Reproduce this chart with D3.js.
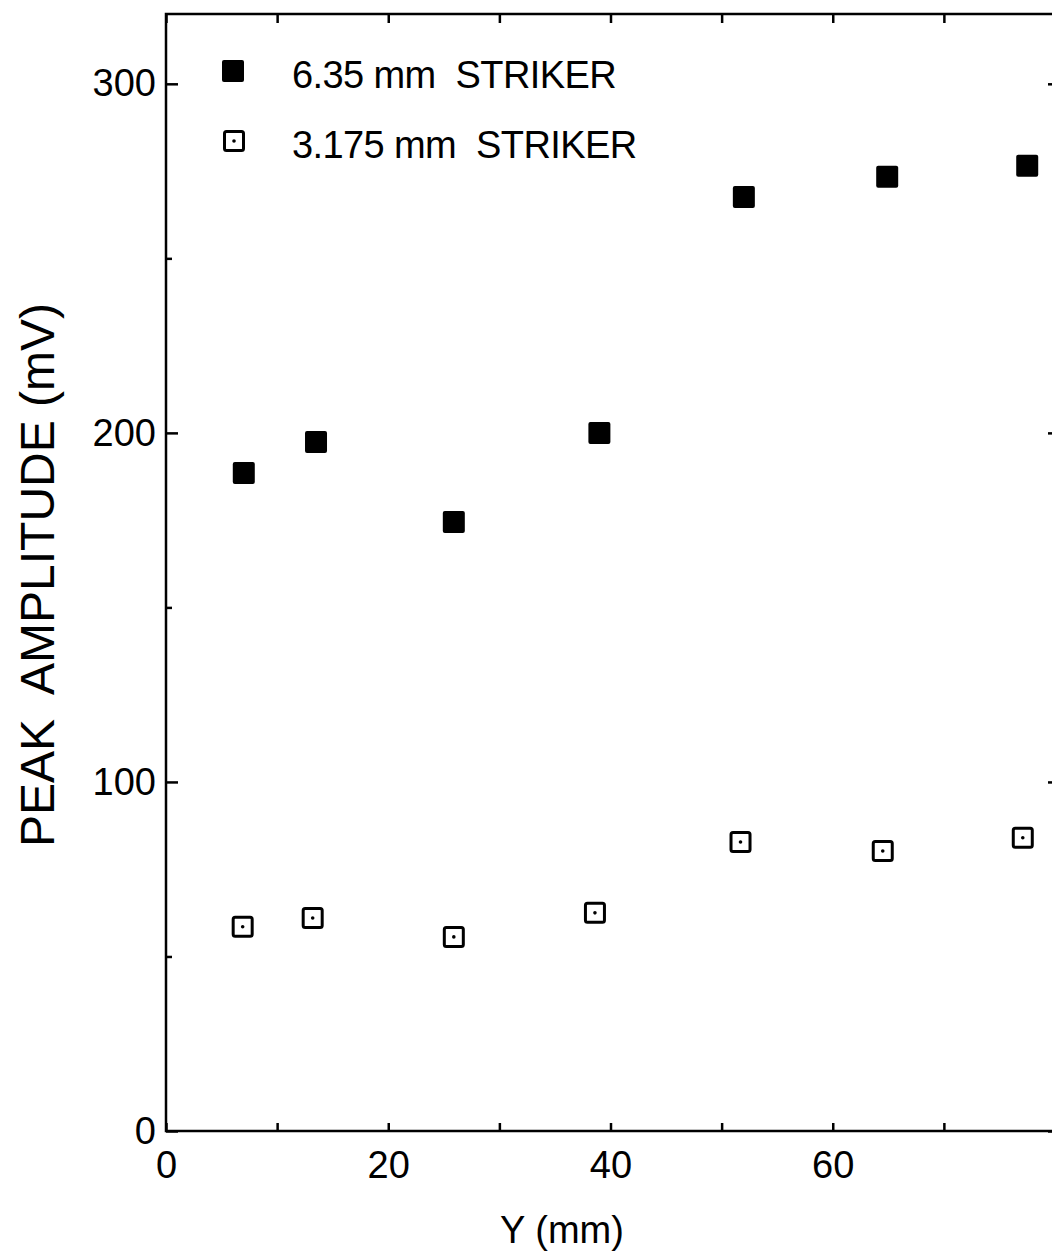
<!DOCTYPE html>
<html>
<head>
<meta charset="utf-8">
<script src="https://cdn.jsdelivr.net/npm/d3@7"></script>
<style>
  body { margin: 0; background: #fff; }
  svg { display: block; font-family: "Liberation Sans", Arial, sans-serif; }
</style>
</head>
<body>
<div id="chart"></div>
<script>
// values
const seriesNames = ["6.35 mm  STRIKER", "3.175 mm  STRIKER"];
const thickX = [7.0, 13.5, 25.9, 39.0, 52.0, 64.9, 77.5];
const thickY = [188.5, 197.4, 174.5, 200.0, 267.6, 273.4, 276.5];
const thinX = [6.9, 13.2, 25.9, 38.6, 51.7, 64.5, 77.1];
const thinY = [58.5, 61.0, 55.6, 62.5, 82.8, 80.2, 84.0];
const xTicks = [0, 10, 20, 30, 40, 50, 60, 70, 80];
const xLabels = [0, 20, 40, 60];
const yMajor = [0, 100, 200, 300];
const yMinor = [50, 150, 250];

const W = 1052, H = 1254;
const margin = {top: 14, right: -3, bottom: 123, left: 166};
const INK = "#000";

const svg = d3.select("#chart").append("svg")
    .attr("width", W)
    .attr("height", H);

const x = d3.scaleLinear().domain([0, 80]).range([margin.left, W - margin.right]);
const y = d3.scaleLinear().domain([0, 320]).range([H - margin.bottom, margin.top]);

const x0 = x.range()[0], x1 = x.range()[1];
const y0 = y.range()[0], y1 = y.range()[1];

// frame
svg.append("rect")
    .attr("x", x0).attr("y", y1)
    .attr("width", x1 - x0).attr("height", y0 - y1)
    .attr("fill", "none")
    .attr("stroke", INK)
    .attr("stroke-width", 2.5);

// bottom axis: inward ticks, labels every 20
const bottomAxis = svg.append("g").attr("transform", `translate(0,${y0})`)
    .call(d3.axisBottom(x).tickValues(xTicks).tickSize(-8).tickSizeOuter(0)
        .tickFormat(d => xLabels.includes(d) ? d : "").tickPadding(20));
bottomAxis.select(".domain").remove();
bottomAxis.selectAll("line").attr("stroke", INK).attr("stroke-width", 2.5);
bottomAxis.selectAll("text").attr("fill", INK).style("font-size", "38px")
    .attr("dy", "0.71em");

// top axis ticks
const topAxis = svg.append("g").attr("transform", `translate(0,${y1})`)
    .call(d3.axisTop(x).tickValues(xTicks).tickSize(-9).tickFormat(""));
topAxis.select(".domain").remove();
topAxis.selectAll("line").attr("stroke", INK).attr("stroke-width", 2.5);

// left axis: major with labels, minor short
const leftAxis = svg.append("g").attr("transform", `translate(${x0},0)`)
    .call(d3.axisLeft(y).tickValues(yMajor).tickSize(-12).tickPadding(10));
leftAxis.select(".domain").remove();
leftAxis.selectAll("line").attr("stroke", INK).attr("stroke-width", 2.5);
leftAxis.selectAll("text").attr("fill", INK).style("font-size", "38px");

const leftMinor = svg.append("g").attr("transform", `translate(${x0},0)`)
    .call(d3.axisLeft(y).tickValues(yMinor).tickSize(-6).tickFormat(""));
leftMinor.select(".domain").remove();
leftMinor.selectAll("line").attr("stroke", INK).attr("stroke-width", 2.5);

// right axis ticks (mostly off the page)
const rightAxis = svg.append("g").attr("transform", `translate(${x1},0)`)
    .call(d3.axisRight(y).tickValues(yMajor).tickSize(-7).tickFormat(""));
rightAxis.select(".domain").remove();
rightAxis.selectAll("line").attr("stroke", INK).attr("stroke-width", 2.5);

// axis titles
svg.append("text")
    .attr("x", 562).attr("y", 1243)
    .attr("text-anchor", "middle")
    .style("font-size", "38px")
    .text("Y (mm)");

svg.append("text")
    .attr("transform", `translate(54,575) rotate(-90)`)
    .attr("text-anchor", "middle")
    .style("font-size", "48px")
    .attr("xml:space", "preserve")
    .style("white-space", "pre")
    .text("PEAK  AMPLITUDE (mV)");

// markers
const MS = 22;
const thick = thickX.map((v, i) => ({x: v, y: thickY[i]}));
const thin = thinX.map((v, i) => ({x: v, y: thinY[i]}));

function filledSquare(g, cx, cy) {
    g.append("rect")
        .attr("x", cx - MS / 2).attr("y", cy - MS / 2)
        .attr("width", MS).attr("height", MS)
        .attr("rx", 2)
        .attr("fill", INK);
}

function hollowSquare(g, cx, cy) {
    const s = MS - 3;
    g.append("rect")
        .attr("x", cx - s / 2).attr("y", cy - s / 2)
        .attr("width", s).attr("height", s)
        .attr("rx", 2)
        .attr("fill", "none")
        .attr("stroke", INK)
        .attr("stroke-width", 3);
    g.append("circle")
        .attr("cx", cx).attr("cy", cy).attr("r", 1.8)
        .attr("fill", INK);
}

const pts = svg.append("g");
thick.forEach(d => filledSquare(pts, x(d.x), y(d.y)));
thin.forEach(d => hollowSquare(pts, x(d.x), y(d.y)));

// legend
const legend = svg.append("g");
filledSquare(legend, 233, 71);
hollowSquare(legend, 234, 141);
legend.selectAll("text.lg")
    .data(seriesNames)
    .enter().append("text")
    .attr("class", "lg")
    .attr("x", 292)
    .attr("y", (d, i) => 88 + i * 70)
    .attr("xml:space", "preserve")
    .style("white-space", "pre")
    .style("font-size", "38px")
    .style("letter-spacing", "-0.6px")
    .text(d => d);
</script>
</body>
</html>
